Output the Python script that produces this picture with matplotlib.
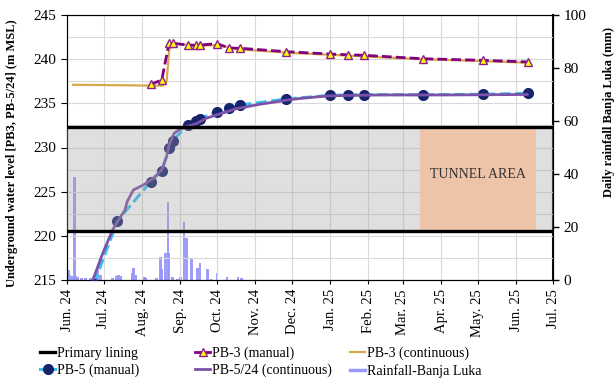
import numpy as np
import pandas as pd
import matplotlib
matplotlib.use('Agg')
import matplotlib.pyplot as plt
import matplotlib.dates as mdates
from matplotlib.lines import Line2D

plt.rcParams['font.family'] = ['Liberation Serif', 'DejaVu Serif']

# 数据 - manual readings (PB-3 and PB-5 share the dates)
manual_dates = pd.to_datetime(['2024-08-08', '2024-08-17', '2024-08-23', '2024-08-26', '2024-09-07',
                               '2024-09-14', '2024-09-17', '2024-10-01', '2024-10-11', '2024-10-20',
                               '2024-11-26', '2025-01-01', '2025-01-15', '2025-01-28', '2025-03-17',
                               '2025-05-05', '2025-06-11'])
pb3_manual = [237.15, 237.64, 241.86, 241.8, 241.6, 241.57, 241.6, 241.75, 241.26, 241.23,
              240.85, 240.58, 240.5, 240.44, 240.05, 239.87, 239.68]

pb5_dates = pd.to_datetime(['2024-06-23', '2024-07-12']).append(manual_dates)
pb5_manual = [214.6, 221.71, 226.13, 227.37, 229.91, 230.77, 232.55, 233.03, 233.26, 234.05, 234.5,
              234.81, 235.49, 235.91, 235.94, 235.98, 235.98, 236.02, 236.14]

# continuous loggers
pb3_cont_dates = pd.to_datetime(['2024-06-06', '2024-07-15', '2024-08-10', '2024-08-18', '2024-08-21',
                                 '2024-08-23', '2024-08-25', '2024-09-15', '2024-10-01', '2024-10-20',
                                 '2024-12-01', '2025-01-01', '2025-03-15', '2025-05-01', '2025-06-10'])
pb3_cont = [237.1, 237.05, 237.0, 237.0, 237.5, 241.0, 241.8, 241.5, 241.6, 241.1,
            240.7, 240.5, 240.0, 239.8, 239.6]

pb5_cont_dates = pd.to_datetime(['2024-06-22', '2024-06-30', '2024-07-08', '2024-07-12', '2024-07-18',
                                 '2024-07-20', '2024-07-25', '2024-08-02', '2024-08-10', '2024-08-17',
                                 '2024-08-21', '2024-08-23', '2024-08-27', '2024-08-31', '2024-09-06',
                                 '2024-09-14', '2024-09-22', '2024-10-03', '2024-10-17', '2024-11-05',
                                 '2024-11-26', '2024-12-07', '2024-12-31', '2025-02-10', '2025-04-08',
                                 '2025-06-10'])
pb5_cont = [215.0, 218.0, 220.65, 221.6, 222.9, 223.9, 225.2, 225.75, 226.5, 227.45,
            229.0, 230.3, 231.6, 232.0, 232.35, 232.7, 233.3, 233.8, 234.4, 234.9,
            235.35, 235.55, 235.85, 235.95, 235.95, 236.0]

# daily rainfall Banja Luka (mm)
rain_dates = pd.to_datetime(['2024-06-01', '2024-06-02', '2024-06-03', '2024-06-05', '2024-06-07',
                             '2024-06-08', '2024-06-10', '2024-06-13', '2024-06-16', '2024-06-20',
                             '2024-06-23', '2024-06-25', '2024-06-26', '2024-06-28', '2024-07-08',
                             '2024-07-11', '2024-07-13', '2024-07-15', '2024-07-24', '2024-07-25',
                             '2024-07-27', '2024-08-03', '2024-08-04', '2024-08-13', '2024-08-16',
                             '2024-08-17', '2024-08-20', '2024-08-22', '2024-08-23', '2024-08-26',
                             '2024-08-30', '2024-09-01', '2024-09-04', '2024-09-06', '2024-09-10',
                             '2024-09-15', '2024-09-17', '2024-09-23', '2024-09-26', '2024-10-01',
                             '2024-10-09', '2024-10-18', '2024-10-21'])
rain_mm = [6.3, 3.8, 2.0, 1.5, 38.7, 1.5, 1.2, 0.8, 0.8, 0.6,
           1.2, 1.5, 3.8, 2.0, 0.8, 1.5, 2.0, 1.6, 2.5, 4.4,
           2.0, 1.0, 0.6, 0.8, 8.6, 4.0, 10.2, 29.5, 10.2, 1.0,
           0.5, 1.0, 21.8, 15.7, 8.3, 4.5, 6.4, 4.2, 0.5, 2.5,
           1.0, 1.0, 0.8]

lining_levels = [232.35, 220.6]
tunnel_start, tunnel_end = pd.Timestamp('2025-03-15'), pd.Timestamp('2025-06-17')
x_start, x_end = pd.Timestamp('2024-06-01'), pd.Timestamp('2025-07-01')

# 绘图
fig = plt.figure(figsize=(6.14, 3.89), dpi=100)
ax = fig.add_axes([67 / 614, 1 - 280 / 389, 486 / 614, 265 / 389])
ax2 = ax.twinx()
# water levels drawn above the rainfall bars
ax.set_zorder(ax2.get_zorder() + 1)
ax.patch.set_visible(False)
ax2.patch.set_visible(True)
ax2.patch.set_facecolor('white')

ax2.bar(rain_dates, rain_mm, width=2.2, color='#9494FA', alpha=0.9, linewidth=0, zorder=1)
ax2.set_ylim(0, 100)
ax2.set_yticks(np.arange(0, 101, 20))
ax2.tick_params(axis='y', direction='out', length=4, labelsize=11, width=1)

ax.plot(pb3_cont_dates, pb3_cont, color='#D8A84A', lw=1.6, zorder=3)
ax.plot(manual_dates, pb3_manual, color='#800080', lw=2, dashes=(3.5, 1.5), zorder=4,
        marker='^', markersize=6, markerfacecolor='#FFFF00', markeredgecolor='#8E1F8E', markeredgewidth=1)
ax.plot(pb5_dates, pb5_manual, color='#3CC0EC', lw=2.2, dashes=(3.5, 1.5), zorder=4,
        marker='o', markersize=7, markerfacecolor='#16246E', markeredgecolor='#16246E')
ax.plot(pb5_cont_dates, pb5_cont, color='#7C52A8', lw=2, zorder=5)

# gray band between primary lining levels
ax.fill_between([x_start, x_end], lining_levels[1], lining_levels[0], color='#A0A0A0', alpha=0.33,
                linewidth=0, zorder=6)
ax.fill_between([tunnel_start, tunnel_end], lining_levels[1], lining_levels[0], color='#EDC4A8',
                linewidth=0, zorder=7)
ax.text(tunnel_start + (tunnel_end - tunnel_start) / 2, 226.9, 'TUNNEL AREA', ha='center', va='center',
        fontsize=10, color='#333333', zorder=8)
for lvl in lining_levels:
    ax.axhline(lvl, color='black', lw=2.4, zorder=9)

ax.set_xlim(x_start, x_end)
ax.set_ylim(215, 245)
ax.set_yticks(np.arange(215, 246, 5))
ax.set_yticks(np.arange(215, 245, 2.5), minor=True)
ax.xaxis.set_major_locator(mdates.MonthLocator())
ax.xaxis.set_major_formatter(mdates.DateFormatter('%b. %y'))
ax.tick_params(axis='x', rotation=90, labelsize=10.5, direction='out', length=3)
ax.tick_params(axis='y', labelsize=11, direction='out', length=4)
ax.tick_params(axis='y', which='minor', length=0)
ax.grid(True, which='major', color='#D9D9D9', lw=0.8)
ax.grid(True, which='minor', axis='y', color='#D9D9D9', lw=0.8)
for s in ax2.spines.values():
    s.set_color('black')
ax2.spines['right'].set_linewidth(1.5)

ax.set_ylabel('Underground water level [PB3, PB-5/24] (m MSL)', fontsize=9, fontweight='bold')
ax.yaxis.set_label_coords(-0.1, 0.48)
ax2.set_ylabel('Daily rainfall Banja Luka (mm)', fontsize=9, fontweight='bold')
ax2.yaxis.set_label_coords(1.103, 0.634)

# 图例
h_lining = Line2D([], [], color='black', lw=2.4)
h_pb3m = Line2D([], [], color='#800080', lw=2, marker='^', markersize=6,
                markerfacecolor='#FFFF00', markeredgecolor='#8E1F8E')
h_pb3c = Line2D([], [], color='#D8A84A', lw=1.6)
h_pb5m = Line2D([], [], color='#3CC0EC', lw=2.2, marker='o', markersize=7,
                markerfacecolor='#16246E', markeredgecolor='#16246E')
h_pb5c = Line2D([], [], color='#7C52A8', lw=2)
h_rain = Line2D([], [], color='#9999FF', lw=2.5)
cols = [([h_lining, h_pb5m], ['Primary lining', 'PB-5 (manual)'], 40),
        ([h_pb3m, h_pb5c], ['PB-3 (manual)', 'PB-5/24 (continuous)'], 195),
        ([h_pb3c, h_rain], ['PB-3 (continuous)', 'Rainfall-Banja Luka'], 350)]
for handles, labels, xpx in cols:
    fig.legend(handles, labels, loc='upper left', bbox_to_anchor=(xpx / 614, 1 - 347 / 389),
               frameon=False, fontsize=10, handlelength=1.1, handletextpad=0.1,
               labelspacing=0.25, borderaxespad=0, borderpad=0)

fig.savefig('out.png', dpi=100)
